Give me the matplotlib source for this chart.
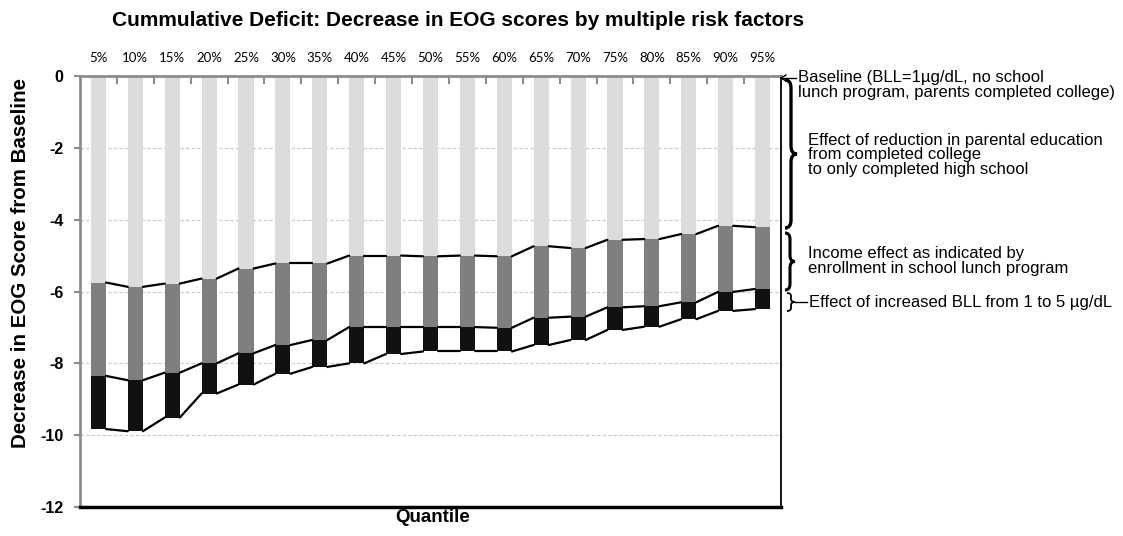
import numpy as np
import matplotlib.pyplot as plt
from matplotlib.path import Path
from matplotlib.patches import PathPatch

# Quantiles and decrease (EOG points) attributable to each risk factor
quantiles = [f"{q}%" for q in range(5, 100, 5)]
edu_effect = [-5.75, -5.87, -5.78, -5.64, -5.36, -5.22, -5.22, -5.00, -5.00, -5.02,
              -5.00, -5.02, -4.74, -4.79, -4.56, -4.54, -4.40, -4.17, -4.21]
income_effect = [-2.60, -2.60, -2.48, -2.36, -2.36, -2.27, -2.13, -1.99, -1.99, -1.97,
                 -1.99, -1.99, -1.99, -1.91, -1.88, -1.87, -1.90, -1.84, -1.72]
bll_effect = [-1.48, -1.42, -1.25, -0.84, -0.87, -0.80, -0.75, -1.01, -0.75, -0.68,
              -0.68, -0.66, -0.76, -0.65, -0.63, -0.57, -0.47, -0.53, -0.56]

W, H = 1123, 536
fig = plt.figure(figsize=(W / 100, H / 100), dpi=100)
ax = fig.add_axes([80 / W, 1 - 507 / H, (781 - 80) / W, (507 - 76) / H])

x = np.arange(len(quantiles))
edu = np.array(edu_effect)
inc = np.array(income_effect)
bll = np.array(bll_effect)
bw = 0.41

ax.bar(x, edu, bw, color='#dcdcdc', zorder=2)
ax.bar(x, inc, bw, bottom=edu, color='#7f7f7f', zorder=2)
ax.bar(x, bll, bw, bottom=edu + inc, color='#111111', zorder=2)

# series lines joining the segment boundaries of neighbouring bars
for level in [edu, edu + inc, edu + inc + bll]:
    for i in range(len(x) - 1):
        ax.plot([x[i] + bw / 2, x[i + 1] - bw / 2], [level[i], level[i + 1]],
                color='black', lw=1.6, zorder=3, solid_capstyle='round')

ax.set_xlim(-0.5, len(x) - 0.5)
ax.set_ylim(-12, 0)
ax.set_yticks(range(-12, 1, 2))
ax.set_yticklabels([str(v) for v in range(-12, 1, 2)], fontweight='bold', fontsize=11.5,
                   family='Liberation Sans')
ax.tick_params(axis='y', direction='out', length=4, color='#8c8c8c', width=1.5, pad=8)
for v in range(-10, 0, 2):
    ax.axhline(v, color='#c8c8c8', lw=0.8, ls=(0, (3, 2)), zorder=1)

ax.xaxis.tick_top()
ax.set_xticks(x)
ax.set_xticklabels(quantiles, family='Lato', fontsize=9.5)
ax.tick_params(axis='x', which='major', length=0, pad=9)
ax.set_xticks(x[:-1] + 0.5, minor=True)
ax.tick_params(axis='x', which='minor', direction='in', length=6, color='#8c8c8c', width=1.5)

ax.spines['top'].set_color('#8c8c8c')
ax.spines['top'].set_linewidth(2)
ax.spines['left'].set_color('#8c8c8c')
ax.spines['left'].set_linewidth(2)
ax.spines['bottom'].set_color('black')
ax.spines['bottom'].set_linewidth(2.5)
ax.spines['right'].set_color('black')
ax.spines['right'].set_linewidth(1.3)

fig.text(458 / W, 1 - 20 / H, 'Cummulative Deficit: Decrease in EOG scores by multiple risk factors',
         ha='center', va='center', fontsize=15, fontweight='bold', family='Liberation Sans')
fig.text(433 / W, 1 - 518 / H, 'Quantile', ha='center', va='center', fontsize=13.5,
         fontweight='bold', family='Liberation Sans')
fig.text(21 / W, 1 - 263 / H, 'Decrease in EOG Score from Baseline', ha='center', va='center',
         rotation=90, fontsize=14.8, fontweight='bold', family='Liberation Sans')


def px(xp, yp):
    return (xp / W, 1 - yp / H)


def brace(x0, yt, yb, d, r, lw):
    ym = (yt + yb) / 2
    xm = x0 + d / 2
    verts = [(x0, yt), (xm, yt), (xm, yt + r), (xm, ym - r), (xm, ym), (x0 + d, ym),
             (xm, ym), (xm, ym + r), (xm, yb - r), (xm, yb), (x0, yb)]
    codes = [Path.MOVETO, Path.CURVE3, Path.CURVE3, Path.LINETO, Path.CURVE3, Path.CURVE3,
             Path.CURVE3, Path.CURVE3, Path.LINETO, Path.CURVE3, Path.CURVE3]
    path = Path([px(*v) for v in verts], codes)
    fig.add_artist(PathPatch(path, fill=False, lw=lw, color='black', transform=fig.transFigure))


ann_font = dict(family='Liberation Sans', fontsize=12, va='center', ha='left', linespacing=0.95)

# baseline arrow
fig.add_artist(plt.Line2D([px(781, 0)[0], px(796, 0)[0]], [px(0, 78)[1]] * 2,
                          color='black', lw=1))
fig.add_artist(plt.Line2D([px(781, 0)[0], px(786, 0)[0]], [px(0, 78)[1], px(0, 75)[1]],
                          color='black', lw=1))
fig.add_artist(plt.Line2D([px(781, 0)[0], px(786, 0)[0]], [px(0, 78)[1], px(0, 81)[1]],
                          color='black', lw=1))
fig.text(*px(798, 85), 'Baseline (BLL=1\u00b5g/dL, no school\nlunch program, parents completed college)',
         **ann_font)

brace(785, 80, 228, 12, 8, 2.4)
fig.text(*px(808, 155), 'Effect of reduction in parental education\nfrom completed college\nto only completed high school',
         **ann_font)

brace(785, 233, 290, 10, 6, 2.2)
fig.text(*px(808, 261), 'Income effect as indicated by\nenrollment in school lunch program', **ann_font)

brace(787, 293, 311, 8, 3, 1.3)
fig.add_artist(plt.Line2D([px(795, 0)[0], px(807, 0)[0]], [px(0, 302)[1]] * 2, color='black', lw=1))
fig.text(*px(809, 302), 'Effect of increased BLL from 1 to 5 \u00b5g/dL', **ann_font)

fig.savefig('out.png', dpi=100)
